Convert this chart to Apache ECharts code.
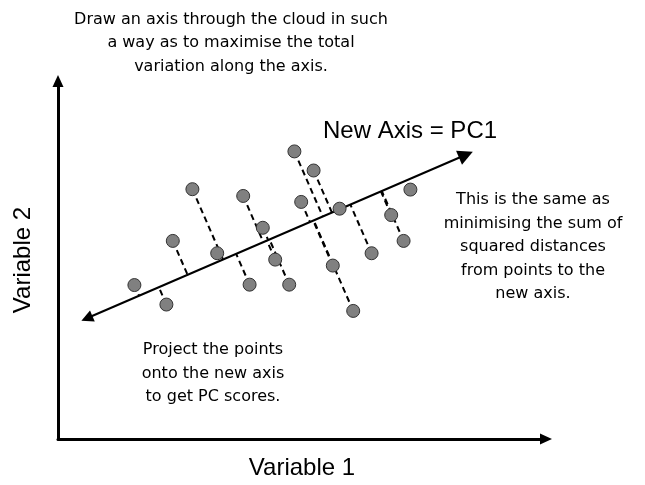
<!DOCTYPE html>
<html>
<head>
<meta charset="utf-8">
<script src="https://cdn.jsdelivr.net/npm/echarts@6/dist/echarts.min.js"></script>
<style>html,body{margin:0;padding:0;background:#fff;}#c{width:645px;height:485px;}</style>
</head>
<body>
<div id="c"></div>
<script>
// Point cloud (Variable 1, Variable 2) in arbitrary units
var pointsX = [1.91, 2.71, 2.87, 3.36, 3.98, 4.63, 4.79, 5.12, 5.43, 5.78, 5.91, 6.08, 6.39, 6.87, 7.04, 7.38, 7.84, 8.33, 8.64, 8.81];
var pointsY = [3.87, 3.38, 4.98, 6.28, 4.67, 6.11, 3.88, 5.31, 4.51, 3.88, 7.23, 5.96, 6.75, 4.36, 5.79, 3.22, 4.67, 5.63, 4.98, 6.27];
// New axis (PC1) end points (arrow tips)
var pc1X = [0.55, 10.37];
var pc1Y = [2.96, 7.22];
// Axis ranges
var xRange = [0, 12.2];
var yRange = [0, 9];
// Texts
var axisNames = ['Variable 1', 'Variable 2'];
var pc1Label = 'New Axis = PC1';
var noteTop = ['Draw an axis through the cloud in such', 'a way as to maximise the total', 'variation along the axis.'];
var noteRight = ['This is the same as', 'minimising the sum of', 'squared distances', 'from points to the', 'new axis.'];
var noteBottom = ['Project the points', 'onto the new axis', 'to get PC scores.'];

var chart = echarts.init(document.getElementById('c'), null, {renderer: 'canvas'});

// projection of points on PC1 line
var dx = pc1X[1] - pc1X[0], dy = pc1Y[1] - pc1Y[0];
var len = Math.sqrt(dx * dx + dy * dy);
var ux = dx / len, uy = dy / len;
var projData = pointsX.map(function (x, i) {
  var y = pointsY[i];
  var t = (x - pc1X[0]) * ux + (y - pc1Y[0]) * uy;
  return {coords: [[x, y], [pc1X[0] + t * ux, pc1Y[0] + t * uy]]};
});
// arrow heads are centred on line ends: pull ends in by half the head length (7.5px = 0.1875 units)
var inset = 0.1875;
var pc1Data = [{coords: [[pc1X[0] + inset * ux, pc1Y[0] + inset * uy], [pc1X[1] - inset * ux, pc1Y[1] - inset * uy]]}];

var verdana = '16px "DejaVu Sans", Verdana, sans-serif';
var arial = '"Liberation Sans", Arial, sans-serif';

function textEl(lines, x, y) {
  return {
    type: 'text', x: x, y: y, silent: true,
    style: {text: lines.join('\n'), font: verdana, fill: '#000', align: 'center', verticalAlign: 'middle', lineHeight: 23.5}
  };
}

var option = {
  animation: false,
  backgroundColor: '#fff',
  grid: {left: 58, right: 99, top: 81, bottom: 44, containLabel: false},
  xAxis: {
    type: 'value', min: xRange[0], max: xRange[1],
    name: axisNames[0], nameLocation: 'middle', nameGap: 17,
    nameTextStyle: {fontFamily: arial, fontSize: 24, color: '#000'},
    axisLine: {show: true, onZero: false, symbol: ['none', 'triangle'], symbolSize: [11, 12], lineStyle: {color: '#000', width: 3}},
    axisTick: {show: false}, axisLabel: {show: false}, splitLine: {show: false}
  },
  yAxis: {
    type: 'value', min: yRange[0], max: yRange[1],
    name: axisNames[1], nameLocation: 'middle', nameGap: 23, nameRotate: 90,
    nameTextStyle: {fontFamily: arial, fontSize: 24, color: '#000'},
    axisLine: {show: true, onZero: false, symbol: ['none', 'triangle'], symbolSize: [11, 12], lineStyle: {color: '#000', width: 3}},
    axisTick: {show: false}, axisLabel: {show: false}, splitLine: {show: false}
  },
  series: [
    {
      type: 'lines', coordinateSystem: 'cartesian2d', z: 1, silent: true,
      data: projData,
      lineStyle: {color: '#000', width: 2, type: [6, 4], opacity: 1}
    },
    {
      type: 'lines', coordinateSystem: 'cartesian2d', z: 2, silent: true,
      data: pc1Data,
      symbol: ['triangle', 'triangle'], symbolSize: [12, 15],
      lineStyle: {color: '#000', width: 2, opacity: 1}
    },
    {
      type: 'scatter', z: 3, silent: true,
      data: pointsX.map(function (x, i) { return [x, pointsY[i]]; }),
      symbol: 'circle', symbolSize: 13,
      itemStyle: {color: '#808080', borderColor: '#333', borderWidth: 1, opacity: 1}
    }
  ],
  graphic: [
    textEl(noteTop, 231, 43),
    textEl(noteRight, 533, 247),
    textEl(noteBottom, 213, 373.5),
    {
      type: 'text', x: 323, y: 131, silent: true,
      style: {text: pc1Label, font: '24px ' + arial, fill: '#000', align: 'left', verticalAlign: 'middle'}
    }
  ]
};
chart.setOption(option);
</script>
</body>
</html>
